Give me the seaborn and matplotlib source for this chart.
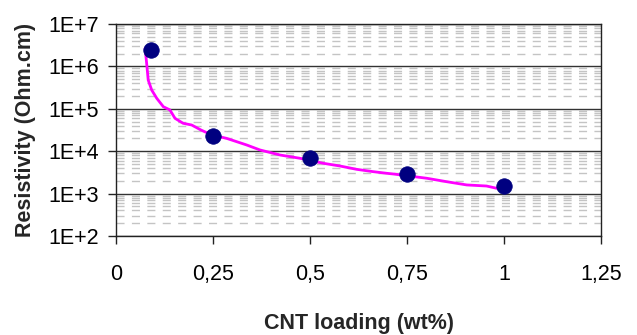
import matplotlib
matplotlib.use("Agg")
import matplotlib.pyplot as plt
import seaborn as sns
import pandas as pd
from matplotlib.ticker import FixedLocator, NullFormatter

# ---- data ----
loading = [0.09, 0.25, 0.5, 0.75, 1.0]
resistivity = [2.4e6, 2.3e4, 7.0e3, 2.9e3, 1.5e3]

curve_loading = [0.075, 0.079, 0.083, 0.092, 0.105, 0.122, 0.139, 0.152, 0.173,
                 0.195, 0.219, 0.247, 0.285, 0.337, 0.371, 0.423, 0.474, 0.534,
                 0.577, 0.620, 0.663, 0.698, 0.715, 0.801, 0.852, 0.904, 0.955, 0.990]
curve_resistivity = [2.67e6, 1.18e6, 4.78e5, 2.77e5, 1.77e5, 1.12e5, 9.4e4, 5.97e4, 4.55e4,
                     4.15e4, 3.16e4, 2.41e4, 2.01e4, 1.40e4, 1.07e4, 8.13e3, 6.81e3, 5.19e3,
                     4.48e3, 3.74e3, 3.29e3, 3.01e3, 2.90e3, 2.30e3, 1.91e3, 1.60e3, 1.51e3, 1.28e3]

x_ticks = [0, 0.25, 0.5, 0.75, 1.0, 1.25]
x_tick_labels = ["0", "0,25", "0,5", "0,75", "1", "1,25"]
y_ticks = [1e2, 1e3, 1e4, 1e5, 1e6, 1e7]
y_tick_labels = ["1E+2", "1E+3", "1E+4", "1E+5", "1E+6", "1E+7"]
minor_subs = [2, 3, 4, 5, 6, 7, 8, 9]

x_label = "CNT loading (wt%)"
y_label = "Resistivity (Ohm.cm)"

# ---- plotting ----
sns.set_style("white")
plt.rcParams["font.family"] = ["Liberation Sans", "DejaVu Sans"]

fig = plt.figure(figsize=(6.37, 3.35), dpi=100)
ax = fig.add_axes([116 / 637, 1 - 236 / 335, (601 - 116) / 637, (236 - 24) / 335])

curve_df = pd.DataFrame({"x": curve_loading, "y": curve_resistivity})
pts_df = pd.DataFrame({"x": loading, "y": resistivity})

ax.set_yscale("log")

sns.lineplot(data=curve_df, x="x", y="y", ax=ax, color="#ff00ff", linewidth=2.0,
             sort=False, zorder=3)
sns.scatterplot(data=pts_df, x="x", y="y", ax=ax, color="#000080", s=125,
                edgecolor="#000080", linewidth=0.5, zorder=4)

ax.set_xlim(0, 1.25)
ax.set_ylim(1e2, 1e7)

# minor gridlines at the log sub-decades, major at each decade
minor_positions = [s * d for d in y_ticks[:-1] for s in minor_subs]
for yv in minor_positions:
    ax.axhline(yv, color="#c4c4c4", linewidth=1.0, linestyle=(0, (5.8, 5.3)), zorder=1)
for yv in y_ticks:
    ax.axhline(yv, color="#333333", linewidth=1.0, zorder=2)

ax.xaxis.set_major_locator(FixedLocator(x_ticks))
ax.set_xticklabels(x_tick_labels)
ax.yaxis.set_major_locator(FixedLocator(y_ticks))
ax.set_yticklabels(y_tick_labels)
ax.yaxis.set_minor_formatter(NullFormatter())
ax.grid(False)

ax.tick_params(axis="both", which="major", direction="out", length=6, width=1,
               color="#222222", labelsize=15.5, labelcolor="black")
ax.tick_params(axis="x", pad=14, bottom=True)
ax.tick_params(axis="y", pad=6, left=True)
ax.tick_params(which="minor", length=0)

for side in ["left", "bottom", "right", "top"]:
    ax.spines[side].set_visible(True)
    ax.spines[side].set_color("#222222")
    ax.spines[side].set_linewidth(1.0)

ax.set_xlabel(x_label, fontsize=15.5, fontweight="bold", labelpad=20)
ax.set_ylabel(y_label, fontsize=15.5, fontweight="bold", labelpad=9)

fig.savefig("out.png", dpi=100, facecolor="white")
